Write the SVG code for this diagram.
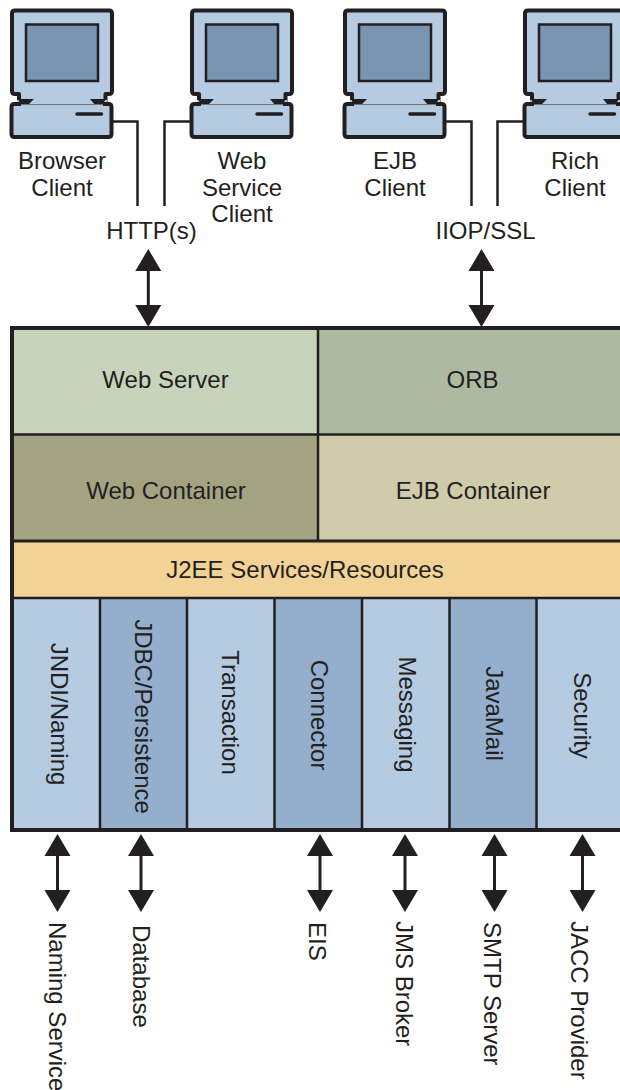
<svg xmlns="http://www.w3.org/2000/svg" xmlns:xlink="http://www.w3.org/1999/xlink" width="620" height="1090" viewBox="0 0 620 1090">
<style>
text{font-family:"Liberation Sans",Arial,sans-serif;font-size:24px;fill:#231f20;text-anchor:middle}
.s{text-anchor:start}
.b{stroke:#231f20;stroke-width:4;fill:none}
.c{stroke:#231f20;stroke-width:2.500;fill:none}
.a{stroke:#231f20;stroke-width:3;fill:none}
.h{fill:#231f20;stroke:none}
</style>
<defs>
<g id="pc">
<rect x="11.500" y="104" width="100" height="33" rx="2" fill="#b5cbe2"/>
<path d="M15 10.500H109Q112 10.500 112 13.500V91Q112 94 109 94H105.500V104H19V94H15Q12 94 12 91V13.500Q12 10.500 15 10.500Z" fill="#b5cbe2" stroke="#231f20" stroke-width="4" stroke-linejoin="round"/>
<rect x="26" y="24.500" width="72" height="56.500" fill="#7a95b2" stroke="#231f20" stroke-width="2.500"/>
<path d="M18 104H14.500Q11.500 104 11.500 107V134Q11.500 137 14.500 137H108.500Q111.500 137 111.500 134V107Q111.500 104 108.500 104H105" fill="none" stroke="#231f20" stroke-width="4"/>
<rect x="17" y="100" width="90" height="6" fill="#b5cbe2"/>
<path d="M18 99H34L28 105H21Z M90 99H106L102 105H95Z" fill="#231f20"/>
<path d="M16 104.500H108" stroke="#6f7478" stroke-width="1"/>
<path d="M16 104H21M103 104H108" stroke="#231f20" stroke-width="4"/>
<path d="M77 114H101.500" stroke="#231f20" stroke-width="3.500" stroke-linecap="round"/>
</g>
<g id="va">
<path class="h" d="M0 0L13 22H-13Z M0 78L-13 56H13Z"/>
<path class="a" d="M0 20V58"/>
</g>
</defs>
<g id="connectors">
<path class="c" d="M113 121.500H137.500V206"/>
<path class="c" d="M190 121.500H164.500V206"/>
<path class="c" d="M446 121.500H471.500V206"/>
<path class="c" d="M523 121.500H497.500V206"/>
<use xlink:href="#va" href="#va" x="148.300" y="249"/>
<use xlink:href="#va" href="#va" x="481.500" y="249"/>
<use xlink:href="#va" href="#va" x="57.500" y="834"/>
<use xlink:href="#va" href="#va" x="141" y="834"/>
<use xlink:href="#va" href="#va" x="320" y="834"/>
<use xlink:href="#va" href="#va" x="405" y="834"/>
<use xlink:href="#va" href="#va" x="494.500" y="834"/>
<use xlink:href="#va" href="#va" x="582.500" y="834"/>
</g>
<g id="browser-client"><use xlink:href="#pc" href="#pc"/><text x="62" y="169">Browser</text><text x="62" y="195.500">Client</text></g>
<g id="web-service-client"><use xlink:href="#pc" href="#pc" x="180"/><text x="242" y="169">Web</text><text x="242" y="195.500">Service</text><text x="242" y="222">Client</text></g>
<g id="ejb-client"><use xlink:href="#pc" href="#pc" x="333"/><text x="395" y="169">EJB</text><text x="395" y="195.500">Client</text></g>
<g id="rich-client"><use xlink:href="#pc" href="#pc" x="513"/><text x="575" y="169">Rich</text><text x="575" y="195.500">Client</text></g>
<g id="http"><text x="151.500" y="239">HTTP(s)</text></g>
<g id="iiop"><text x="485.500" y="239">IIOP/SSL</text></g>
<g id="web-server"><rect x="12" y="328" width="306" height="106" fill="#c8d3bc"/><text x="165.500" y="388">Web Server</text></g>
<g id="orb"><rect x="318" y="328" width="304" height="106" fill="#aeb9a2"/><text x="472.500" y="388">ORB</text></g>
<g id="web-container"><rect x="12" y="434" width="306" height="107" fill="#a3a382"/><text x="166" y="499">Web Container</text></g>
<g id="ejb-container"><rect x="318" y="434" width="304" height="107" fill="#cfcbab"/><text x="473" y="499">EJB Container</text></g>
<g id="j2ee"><rect x="12" y="541" width="610" height="57" fill="#f3d395"/><text x="305" y="578">J2EE Services/Resources</text></g>
<g id="jndi"><rect x="12" y="598" width="88" height="232" fill="#b5cbe2"/><text transform="translate(51 714) rotate(90)">JNDI/Naming</text></g>
<g id="jdbc"><rect x="100" y="598" width="87" height="232" fill="#94aecd"/><text transform="translate(135 716.500) rotate(90)">JDBC/Persistence</text></g>
<g id="transaction"><rect x="187" y="598" width="87.500" height="232" fill="#b5cbe2"/><text transform="translate(222 712.500) rotate(90)">Transaction</text></g>
<g id="connector"><rect x="274.500" y="598" width="87.500" height="232" fill="#94aecd"/><text transform="translate(311 715) rotate(90)">Connector</text></g>
<g id="messaging"><rect x="362" y="598" width="87.500" height="232" fill="#b5cbe2"/><text transform="translate(398.500 714.500) rotate(90)">Messaging</text></g>
<g id="javamail"><rect x="449.500" y="598" width="87" height="232" fill="#94aecd"/><text transform="translate(486 713.500) rotate(90)">JavaMail</text></g>
<g id="security"><rect x="536.500" y="598" width="85.500" height="232" fill="#b5cbe2"/><text transform="translate(573.500 715.500) rotate(90)">Security</text></g>
<g id="frame">
<path class="b" d="M622 328H12V830H622"/>
<path class="c" d="M318 328V541M12 434.500H622"/>
<path class="a" d="M12 541H622"/>
<path class="c" d="M12 598H622M100 598V830M187 598V830M274.500 598V830M362 598V830M449.500 598V830M536.500 598V830"/>
</g>
<g id="naming-service"><text class="s" transform="translate(49 922) rotate(90)">Naming Service</text></g>
<g id="database"><text class="s" transform="translate(133 925) rotate(90)">Database</text></g>
<g id="eis"><text class="s" transform="translate(309 922) rotate(90)">EIS</text></g>
<g id="jms"><text class="s" transform="translate(396 921) rotate(90)">JMS Broker</text></g>
<g id="smtp"><text class="s" transform="translate(484 922) rotate(90)">SMTP Server</text></g>
<g id="jacc"><text class="s" transform="translate(571 921) rotate(90)">JACC Provider</text></g>
</svg>
